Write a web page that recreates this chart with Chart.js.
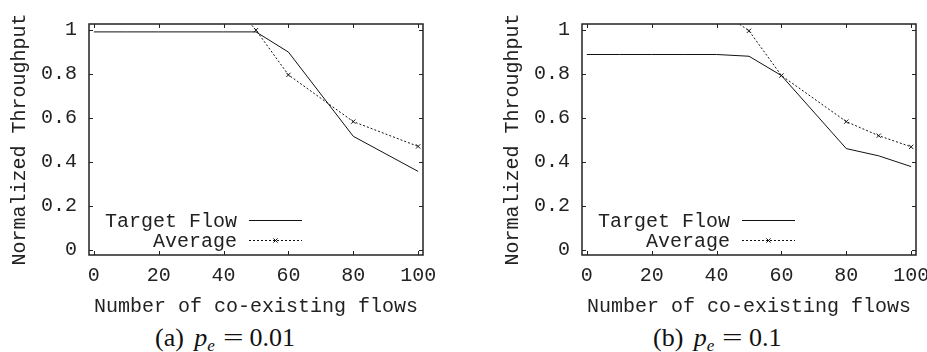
<!DOCTYPE html>
<html><head><meta charset="utf-8">
<script src="https://cdn.jsdelivr.net/npm/chart.js@4"></script>
<style>
html,body{margin:0;padding:0;background:#fff;}
#wrap{position:relative;width:927px;height:352px;overflow:hidden;background:#fff;}
canvas{position:absolute;top:0;}
.cap{position:absolute;font-family:"Liberation Serif","Times New Roman",serif;font-size:26px;color:#111;white-space:nowrap;line-height:26px;}
.cap i{margin-left:4px;}
.cap sub{font-size:17px;vertical-align:-5px;line-height:0;font-style:italic;}
.cap .eq{display:inline-block;margin:0 9px 0 11px;transform:scaleX(1.4);}
</style></head><body>
<div id="wrap">
<canvas id="cA" width="470" height="320" style="left:0px"></canvas>
<canvas id="cB" width="460" height="320" style="left:493px"></canvas>
<div class="cap" style="left:155px;top:325px">(a) <i>p</i><sub>e</sub><span class="eq">=</span>0.01</div>
<div class="cap" style="left:653px;top:325px">(b) <i>p</i><sub>e</sub><span class="eq">=</span>0.1</div>
</div>
<script>
// ---- data ----
const xTicks = [0, 20, 40, 60, 80, 100];
const yTicks = [0, 0.2, 0.4, 0.6, 0.8, 1];
const seriesNames = ['Target Flow', 'Average'];

// (a) p_e = 0.01
const targetX_A = [0, 10, 20, 30, 40, 50, 60, 80, 100];
const targetY_A = [0.992, 0.992, 0.992, 0.992, 0.992, 0.992, 0.900, 0.516, 0.356];
const avgX_A = [40, 50, 60, 80, 100];
const avgY_A = [1.175, 1.000, 0.796, 0.583, 0.470];

// (b) p_e = 0.1
const targetX_B = [0, 10, 20, 30, 40, 50, 60, 80, 90, 100];
const targetY_B = [0.889, 0.889, 0.889, 0.889, 0.889, 0.881, 0.793, 0.460, 0.427, 0.378];
const avgX_B = [40, 50, 60, 80, 90, 100];
const avgY_B = [1.100, 0.997, 0.793, 0.583, 0.519, 0.468];

const FONT = '"Liberation Mono","Courier New",monospace';
const INK = '#222';

const framePlugin = {
  id: 'gpFrame',
  afterDatasetsDraw(chart) {
    const {ctx, chartArea: a, scales: {x, y}} = chart;
    ctx.save();
    ctx.strokeStyle = INK;
    ctx.lineWidth = 1;
    ctx.beginPath();
    x.ticks.forEach(t => {
      const px = Math.round(x.getPixelForValue(t.value)) + 0.5;
      ctx.moveTo(px, a.bottom); ctx.lineTo(px, a.bottom - 4);
      ctx.moveTo(px, a.top); ctx.lineTo(px, a.top + 4);
    });
    y.ticks.forEach(t => {
      const py = Math.round(y.getPixelForValue(t.value)) + 0.5;
      ctx.moveTo(a.left, py); ctx.lineTo(a.left + 4, py);
      ctx.moveTo(a.right, py); ctx.lineTo(a.right - 4, py);
    });
    ctx.stroke();
    ctx.lineWidth = 1.5;
    ctx.strokeRect(a.left, a.top, a.width, a.height);
    // legend
    chart.data.datasets.forEach((ds, i) => {
      const ty = a.bottom - 33 + i * 20;
      ctx.font = '20px ' + FONT;
      ctx.fillStyle = INK;
      ctx.textAlign = 'right';
      ctx.textBaseline = 'middle';
      ctx.fillText(ds.label, a.left + 148, ty);
      const ly = ty - 1.5;
      ctx.strokeStyle = ds.borderColor;
      ctx.lineWidth = ds.borderWidth;
      ctx.setLineDash(ds.borderDash || []);
      ctx.beginPath(); ctx.moveTo(a.left + 160, ly); ctx.lineTo(a.left + 213, ly); ctx.stroke();
      ctx.setLineDash([]);
      if (ds.pointRadius > 0) {
        ctx.strokeStyle = ds.pointBorderColor;
        ctx.lineWidth = ds.pointBorderWidth;
        Chart.helpers.drawPoint(ctx, {pointStyle: ds.pointStyle, radius: ds.pointRadius, borderWidth: ds.pointBorderWidth, rotation: 0}, a.left + 186.5, ly);
      }
    });
    ctx.restore();
  }
};

function makeChart(id, tx, ty, ax, ay, padRight) {
  return new Chart(document.getElementById(id), {
    type: 'line',
    data: {
      datasets: [
        {
          label: seriesNames[0],
          data: tx.map((v, i) => ({x: v, y: ty[i]})),
          borderColor: '#111', borderWidth: 1, pointRadius: 0, tension: 0, fill: false
        },
        {
          label: seriesNames[1],
          data: ax.map((v, i) => ({x: v, y: ay[i]})),
          borderColor: '#111', borderWidth: 1, borderDash: [2, 2],
          pointStyle: 'crossRot', pointRadius: 3, pointBorderWidth: 1,
          pointBorderColor: '#111', pointBackgroundColor: '#111', tension: 0, fill: false
        }
      ]
    },
    options: {
      responsive: false, animation: false, devicePixelRatio: 1,
      layout: {padding: {left: 0, top: 18, right: padRight, bottom: 0}},
      plugins: {legend: {display: false}, tooltip: {enabled: false}, title: {display: false}},
      scales: {
        x: {
          type: 'linear', min: -1.5, max: 101.5,
          grid: {display: false, drawTicks: false},
          border: {display: false},
          afterBuildTicks: s => { s.ticks = xTicks.map(v => ({value: v})); },
          afterFit: s => { s.height = 65; },
          ticks: {font: {family: FONT, size: 20}, color: INK, padding: 9, maxRotation: 0, autoSkip: false,
                  callback: v => String(v)},
          title: {display: true, text: 'Number of co-existing flows', font: {family: FONT, size: 20},
                  color: INK, padding: {top: 0, bottom: 1}}
        },
        y: {
          type: 'linear', min: -0.025, max: 1.028,
          grid: {display: false, drawTicks: false},
          border: {display: false},
          afterBuildTicks: s => { s.ticks = yTicks.map(v => ({value: v})); },
          afterFit: s => { s.width = 89; },
          ticks: {font: {family: FONT, size: 20}, color: INK, padding: 12, autoSkip: false,
                  callback: v => String(Math.round(v * 10) / 10)},
          title: {display: true, text: 'Normalized Throughput', font: {family: FONT, size: 20},
                  color: INK, padding: {top: 8, bottom: 0}}
        }
      }
    },
    plugins: [framePlugin]
  });
}

makeChart('cA', targetX_A, targetY_A, avgX_A, avgY_A, 47);
makeChart('cB', targetX_B, targetY_B, avgX_B, avgY_B, 37);
</script>
</body></html>
